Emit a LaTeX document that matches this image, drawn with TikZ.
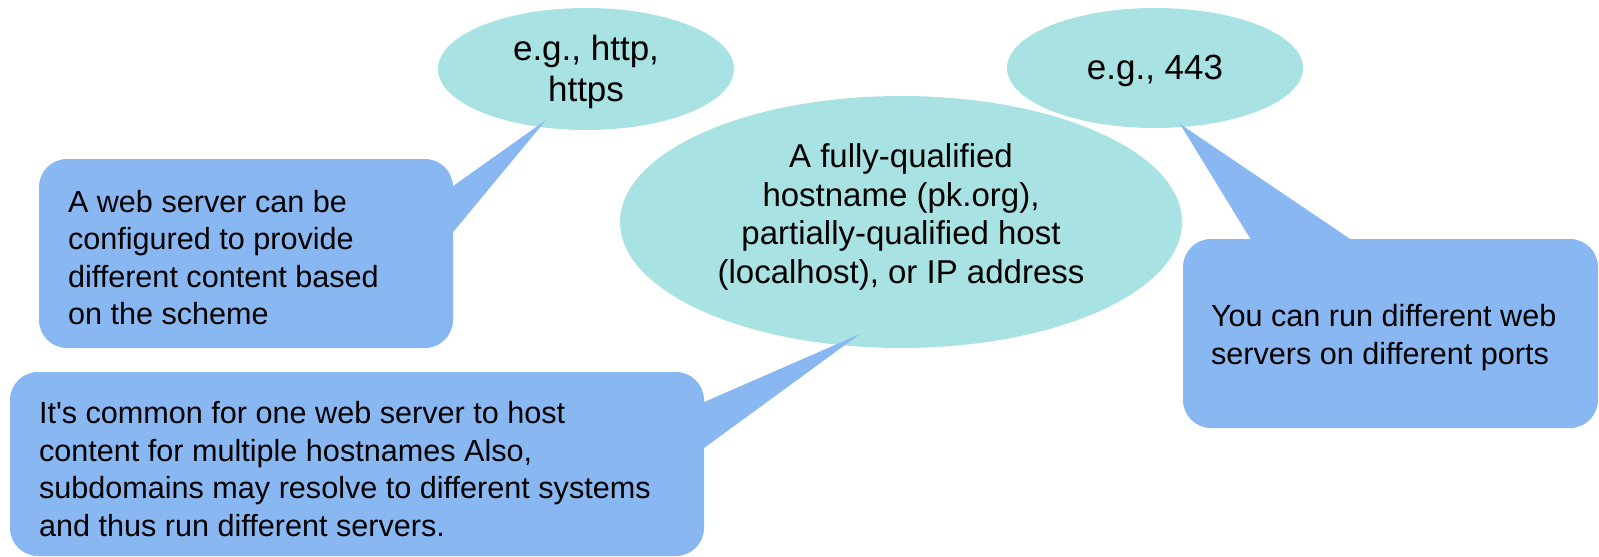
\documentclass[tikz,border=0pt]{standalone}
\usepackage{fontspec}
\setmainfont{Liberation Sans}[Ligatures=TeXOff]
\usetikzlibrary{shapes.geometric,calc}
\definecolor{bubble}{HTML}{A8E2E3}
\definecolor{boxblue}{HTML}{88B7F1}
\tikzset{
  bubble/.style={ellipse, fill=bubble, draw=none, inner sep=0pt},
  callout/.style={rectangle, fill=boxblue, draw=none, rounded corners=28pt, inner sep=0pt},
  callouttext/.style={anchor=west, inner sep=0pt, align=left,
    font=\fontsize{30.6}{37.6}\selectfont},
  tail/.style={fill=boxblue, draw=none},
}
\begin{document}
\begin{tikzpicture}[x=1pt,y=-1pt]
\useasboundingbox (0,0) rectangle (1599,557);
% bubbles
\node[bubble, minimum width=296pt, minimum height=122pt] (e1) at (586,69) {};
\node[font=\fontsize{35}{41.5}\selectfont, align=center] (e1txt) at (586,72) {e.g., http,\\https};
\node[bubble, minimum width=296pt, minimum height=120pt] (e2) at (1155,68) {};
\node[font=\fontsize{35}{41}\selectfont] (e2txt) at (1155,71) {e.g., 443};
\node[bubble, minimum width=562pt, minimum height=252pt] (big) at (901,222) {};
\node[font=\fontsize{33}{38.6}\selectfont, align=center] (bigtxt) at (901,217)
  {A fully-qualified\\hostname (pk.org),\\partially-qualified host\\(localhost), or IP address};
% callout boxes
\node[callout, minimum width=414pt, minimum height=189pt] (b1) at (246,253.5) {};
\node[callout, minimum width=694pt, minimum height=184pt] (b2) at (357,464) {};
\node[callout, minimum width=415pt, minimum height=189pt] (b3) at (1390.5,333.5) {};
% tail tips
\coordinate (t1) at (546,120);
\coordinate (t2) at (860,334);
\coordinate (t3) at (1180,124);
% tails
\fill[tail] ($(b1.north east)+(-4,30)$) -- (t1) -- ($(b1.north east)+(-4,78)$) -- cycle;
\fill[tail] ($(b2.north east)+(-4,32)$) -- (t2) -- ($(b2.north east)+(-4,79)$) -- cycle;
\fill[tail] ($(b3.north west)+(70,4)$) -- (t3) -- ($(b3.north west)+(173,4)$) -- cycle;
% callout texts
\node[callouttext] (b1txt) at ($(b1.west)+(29,4)$)
  {A web server can be\\configured to provide\\different content based\\on the scheme};
\node[callouttext] (b2txt) at ($(b2.west)+(29,5)$)
  {It's common for one web server to host\\content for multiple hostnames Also,\\subdomains may resolve to different systems\\and thus run different servers.};
\node[callouttext] (b3txt) at ($(b3.west)+(28,4)$)
  {You can run different web\\servers on different ports};
\end{tikzpicture}
\end{document}
